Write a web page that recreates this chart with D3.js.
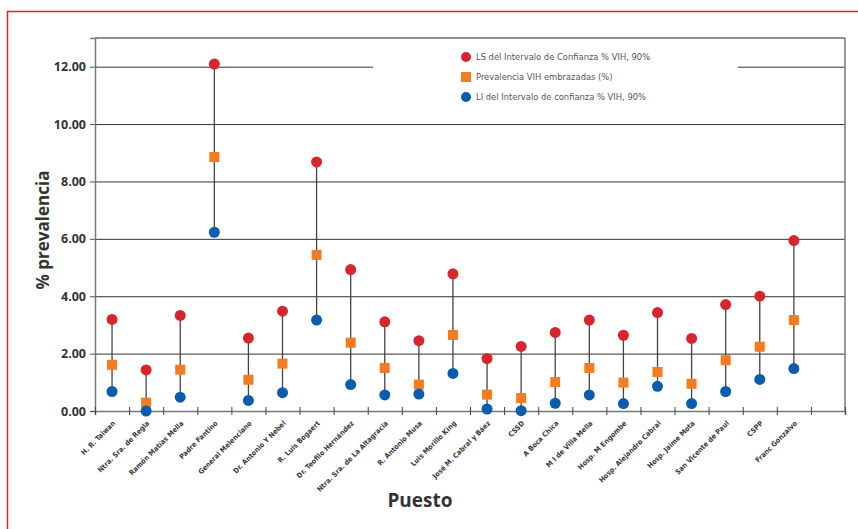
<!DOCTYPE html>
<html>
<head>
<meta charset="utf-8">
<script src="https://cdn.jsdelivr.net/npm/d3@7"></script>
<style>
  body { margin: 0; background: #fff; }
  svg { display: block; }
</style>
</head>
<body>
<div id="chart"></div>
<script>
// Data
const puestos = ["H. R. Taiwan", "Ntra. Sra. de Regla", "Ramón Matías Mella", "Padre Fantino",
  "General Melenciano", "Dr. Antonio Y Nebel", "R. Luis Bogaert", "Dr. Teofilo Hernández",
  "Ntra. Sra. de La Altagracia", "R. Antonio Musa", "Luis Morillo King", "José M. Cabral y Báez",
  "CSSD", "A Boca Chica", "M I de Villa Mella", "Hosp. M Engombe", "Hosp. Alejandro Cabral",
  "Hosp. Jaime Mota", "San Vicente de Paul", "CSPP", "Franc Gonzalvo"];
const limSup = [3.19, 1.43, 3.33, 12.09, 2.54, 3.48, 8.68, 4.93, 3.11, 2.45, 4.78,
  1.83, 2.25, 2.74, 3.17, 2.64, 3.43, 2.53, 3.71, 4.00, 5.94];
const prevalencia = [1.61, 0.29, 1.44, 8.85, 1.09, 1.65, 5.44, 2.38, 1.50, 0.92, 2.65,
  0.57, 0.45, 1.01, 1.50, 0.99, 1.36, 0.95, 1.77, 2.24, 3.17];
const limInf = [0.68, 0.00, 0.48, 6.23, 0.37, 0.64, 3.17, 0.92, 0.56, 0.59, 1.31,
  0.07, 0.01, 0.27, 0.56, 0.26, 0.86, 0.26, 0.68, 1.10, 1.48];
const yTicks = [0, 2, 4, 6, 8, 10, 12];
const legendLabels = ["LS del Intervalo de Confianza % VIH, 90%",
  "Prevalencia VIH embrazadas (%)",
  "LI del Intervalo de confianza % VIH, 90%"];

const W = 858, H = 529;
const pLeft = 95, pRight = 845, pTop = 38, pBottom = 411;
const nSlots = 22;   // axis has room for 22 categories, 21 used

const red = "#d7252d", orange = "#f47b20", blue = "#0a5cae";
const narrow = "'DejaVu Sans Condensed', sans-serif";

const svg = d3.select("#chart").append("svg")
  .attr("width", W).attr("height", H);

// outer red frame (runs off the page right and bottom)
svg.append("rect")
  .attr("x", 7.5).attr("y", 11.5)
  .attr("width", W + 40).attr("height", H + 40)
  .attr("fill", "none").attr("stroke", red).attr("stroke-width", 1.5);

const x = d3.scaleLinear().domain([0, nSlots]).range([pLeft, pRight]);
const y = d3.scaleLinear().domain([0, 13]).range([pBottom, pTop]);

// gridlines
svg.append("g")
  .attr("transform", "translate(" + pLeft + ",0)")
  .call(d3.axisLeft(y).tickValues(yTicks.slice(1)).tickSize(-(pRight - pLeft)).tickFormat(""))
  .call(g => g.select(".domain").remove())
  .call(g => g.selectAll("line").attr("stroke", "#333").attr("stroke-width", 1));

// plot frame: top and right
svg.append("line").attr("x1", pLeft).attr("x2", pRight).attr("y1", pTop).attr("y2", pTop)
  .attr("stroke", "#222").attr("stroke-width", 1.2);
svg.append("line").attr("x1", pRight).attr("x2", pRight).attr("y1", pTop).attr("y2", pBottom)
  .attr("stroke", "#777").attr("stroke-width", 1.5);

// Y axis
svg.append("g")
  .attr("transform", "translate(" + pLeft + ",0)")
  .call(d3.axisLeft(y).tickValues(yTicks).tickFormat(d3.format(".2f")).tickSize(5).tickPadding(4))
  .call(g => g.select(".domain").attr("stroke", "#777").attr("stroke-width", 1.5))
  .call(g => g.selectAll("line").attr("stroke", "#555"))
  .call(g => g.selectAll("text")
    .attr("fill", "#333").style("font-family", "'Open Sans', sans-serif")
    .style("font-weight", "bold").style("font-size", "12.5px"));

// X axis
svg.append("g")
  .attr("transform", "translate(0," + pBottom + ")")
  .call(d3.axisBottom(x).tickValues(d3.range(0, nSlots + 1)).tickFormat("").tickSize(4))
  .call(g => g.select(".domain").attr("stroke", "#777").attr("stroke-width", 1.5))
  .call(g => g.selectAll(".tick line").attr("y1", -4).attr("stroke", "#444"));

// category labels
svg.append("g").selectAll("text")
  .data(puestos).enter().append("text")
  .attr("transform", (d, i) => "translate(" + (x(i + 0.5) + 2) + "," + (pBottom + 11) + ") rotate(-45)")
  .attr("text-anchor", "end")
  .attr("dy", "0.35em")
  .style("font-family", narrow).style("font-size", "7.2px").style("font-weight", "bold")
  .attr("fill", "#3a3a3a")
  .text(d => d);

// legend (white box hides the 12.00 gridline)
const lg = svg.append("g");
lg.append("rect").attr("x", 373).attr("y", 44).attr("width", 365).attr("height", 62).attr("fill", "#fff");
legendLabels.forEach((t, i) => {
  const ly = 57 + i * 20;
  if (i === 1) {
    lg.append("rect").attr("x", 461).attr("y", ly - 5).attr("width", 10).attr("height", 10).attr("fill", orange);
  } else {
    lg.append("circle").attr("cx", 466).attr("cy", ly).attr("r", 5).attr("fill", i === 0 ? red : blue);
  }
  lg.append("text").attr("x", 476).attr("y", ly).attr("dy", "0.35em")
    .style("font-family", narrow).style("font-size", "9.3px").attr("fill", "#555")
    .text(t);
});

// stems
svg.append("g").selectAll("line")
  .data(puestos).enter().append("line")
  .attr("x1", (d, i) => x(i + 0.5)).attr("x2", (d, i) => x(i + 0.5))
  .attr("y1", (d, i) => y(limSup[i])).attr("y2", (d, i) => y(limInf[i]))
  .attr("stroke", "#444").attr("stroke-width", 1.3);

// markers
svg.append("g").selectAll("rect")
  .data(prevalencia).enter().append("rect")
  .attr("x", (d, i) => x(i + 0.5) - 5).attr("y", d => y(d) - 5)
  .attr("width", 10).attr("height", 10).attr("fill", orange);

svg.append("g").selectAll("circle")
  .data(limSup).enter().append("circle")
  .attr("cx", (d, i) => x(i + 0.5)).attr("cy", d => y(d)).attr("r", 5.5).attr("fill", red);

svg.append("g").selectAll("circle")
  .data(limInf).enter().append("circle")
  .attr("cx", (d, i) => x(i + 0.5)).attr("cy", d => y(d)).attr("r", 5.5).attr("fill", blue);

// axis titles
svg.append("text")
  .attr("transform", "translate(49,230) rotate(-90)")
  .attr("text-anchor", "middle")
  .style("font-family", "'Open Sans', sans-serif").style("font-weight", "bold").style("font-size", "17px")
  .attr("fill", "#333").text("% prevalencia");

svg.append("text")
  .attr("x", 420).attr("y", 507).attr("text-anchor", "middle")
  .style("font-family", "'Open Sans', sans-serif").style("font-weight", "bold").style("font-size", "19px")
  .attr("fill", "#333").text("Puesto");
</script>
</body>
</html>
